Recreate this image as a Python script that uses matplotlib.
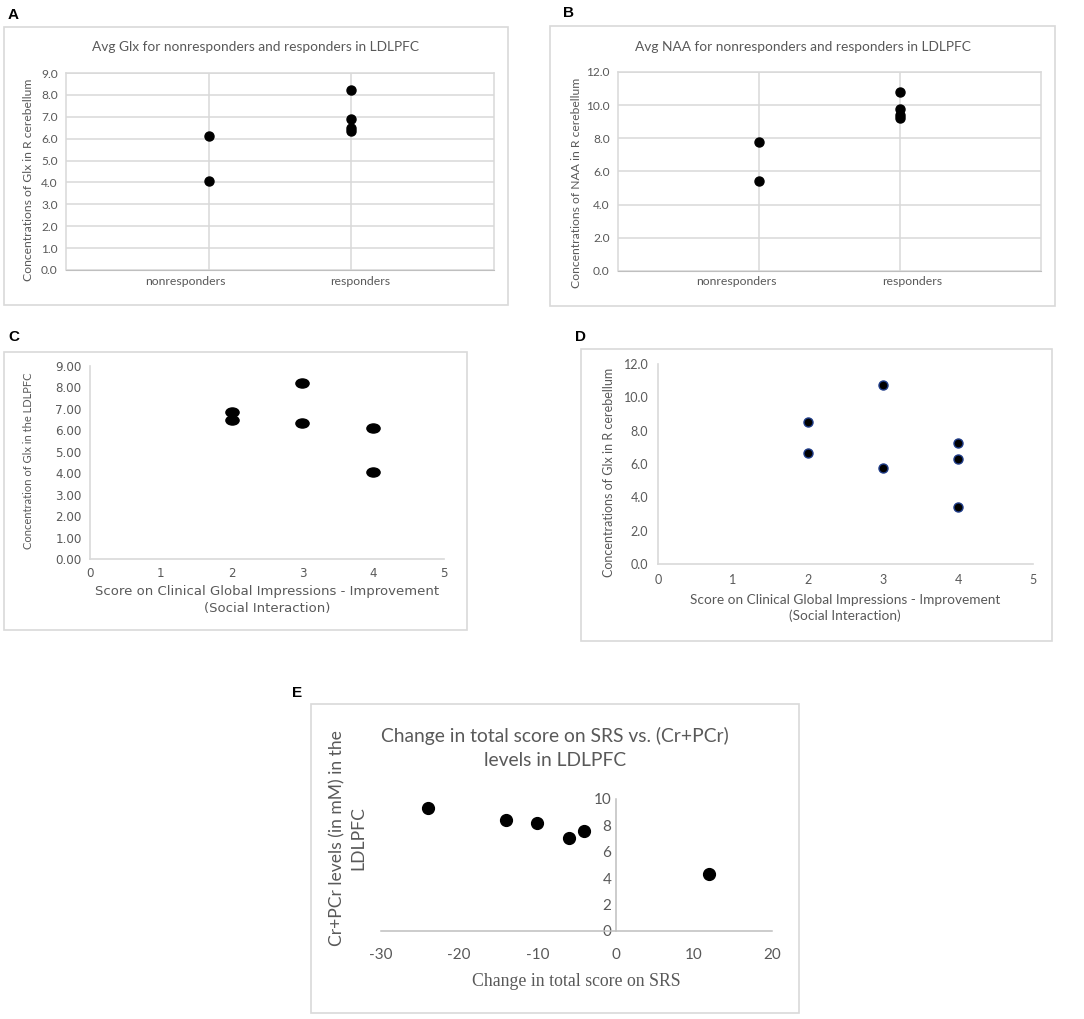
import numpy as np
import matplotlib.pyplot as plt
from matplotlib.patches import Rectangle
from matplotlib.markers import MarkerStyle
from matplotlib.path import Path
from matplotlib.transforms import Affine2D

# --- data ---
groups = ['nonresponders', 'responders']
glx_nonresp = [6.12, 4.05]
glx_resp = [8.24, 6.88, 6.48, 6.35]
naa_nonresp = [7.76, 5.42]
naa_resp = [10.80, 9.75, 9.38, 9.20]

cgi_glx = [2, 2, 3, 3, 4, 4]
glx_ldlpfc = [6.87, 6.46, 8.22, 6.34, 6.12, 4.05]

cgi_d = [2, 2, 3, 3, 4, 4, 4]
glx_cereb = [8.54, 6.67, 10.74, 5.75, 7.27, 6.31, 3.43]

srs_change = [-24, -14, -10, -6, -4, 12]
crpcr = [9.29, 8.41, 8.15, 7.01, 7.54, 4.35]

W, H = 1084, 1019
TXT = '#595959'
GRID = '#d9d9d9'
AXL = '#bfbfbf'
SANS = ['Lato', 'DejaVu Sans']
plt.rcParams['font.family'] = SANS
plt.rcParams['axes.unicode_minus'] = False

fig = plt.figure(figsize=(W / 100, H / 100), dpi=100)


def box(x0, y0, x1, y1):
    # px coords (top-left origin) -> figure-fraction rect
    return [x0 / W, 1 - y1 / H, (x1 - x0) / W, (y1 - y0) / H]


def frame(x0, y0, x1, y1):
    fig.patches.append(Rectangle((x0 / W, 1 - y1 / H), (x1 - x0) / W, (y1 - y0) / H,
                                 transform=fig.transFigure, fill=False,
                                 edgecolor=GRID, linewidth=1.2))


def ftext(x, y, s, **kw):
    kw.setdefault('color', TXT)
    kw.setdefault('ha', 'center')
    kw.setdefault('va', 'center')
    fig.text(x / W, 1 - y / H, s, **kw)


def panel_label(x, y, s):
    fig.text(x / W, 1 - y / H, s, fontsize=11, fontweight='bold',
             family='Liberation Sans', color='black', ha='left', va='center')


# ellipse marker for the stretched panel C
ell = MarkerStyle(Path.unit_circle().transformed(Affine2D().scale(1.45, 1.0)))


def group_panel(rect, fr, nonresp, resp, ymax, ystep, title, ylabel, title_xy, ylab_xy, lab_x, lab_y):
    frame(*fr)
    ax = fig.add_axes(box(*rect))
    ax.set_xlim(0, 3)
    ax.set_ylim(0, ymax)
    ax.set_xticks([1, 2])
    ax.set_xticklabels([])
    ax.set_yticks(np.arange(0, ymax + 0.01, ystep))
    ax.set_yticklabels([f'{v:.1f}' for v in np.arange(0, ymax + 0.01, ystep)])
    ax.grid(True, color=GRID, linewidth=1.1)
    ax.set_axisbelow(True)
    for s in ['top', 'right', 'left']:
        ax.spines[s].set_color(GRID)
        ax.spines[s].set_linewidth(1.1)
    ax.spines['bottom'].set_color(AXL)
    ax.tick_params(length=0, labelsize=8.6, labelcolor=TXT, pad=6)
    ax.plot([1] * len(nonresp), nonresp, 'o', color='black', ms=6.5)
    ax.plot([2] * len(resp), resp, 'o', color='black', ms=6.5)
    ftext(*title_xy, title, fontsize=9.9)
    ftext(*ylab_xy, ylabel, fontsize=8.7, rotation=90)
    for xx, g in zip(lab_x, groups):
        ftext(xx, lab_y, g, fontsize=8.8)
    return ax


# ---------- A ----------
panel_label(8, 15, 'A')
group_panel((66, 73, 494, 270), (4, 27, 508, 305), glx_nonresp, glx_resp, 9, 1.0,
            'Avg Glx for nonresponders and responders in LDLPFC',
            'Concentrations of Glx in R cerebellum', (256, 47), (29, 180),
            [185, 360], 282)

# ---------- B ----------
panel_label(563, 13, 'B')
group_panel((618, 72, 1041, 271), (550, 26, 1055, 306), naa_nonresp, naa_resp, 12, 2.0,
            'Avg NAA for nonresponders and responders in LDLPFC',
            'Concentrations of NAA in R cerebellum', (803, 47), (576, 183),
            [736, 912], 282)

# ---------- C ----------
panel_label(8, 337, 'C')
frame(4, 352, 467, 630)
axc = fig.add_axes(box(90, 366, 444, 559))
axc.set_xlim(0, 5)
axc.set_ylim(0, 9)
axc.set_xticks(range(6))
axc.set_yticks(range(10))
axc.set_yticklabels([f'{v:.2f}' for v in range(10)], family='DejaVu Sans')
axc.set_xticklabels([str(v) for v in range(6)], family='DejaVu Sans')
for s in ['top', 'right']:
    axc.spines[s].set_visible(False)
for s in ['left', 'bottom']:
    axc.spines[s].set_color(GRID)
    axc.spines[s].set_linewidth(1.2)
axc.tick_params(length=0, labelsize=8.6, labelcolor=TXT, pad=6)
axc.plot(cgi_glx, glx_ldlpfc, linestyle='none', marker=ell, color='black', ms=9.5)
ftext(29, 461, 'Concentration of Glx in the LDLPFC', fontsize=8, rotation=90)
ftext(267, 600, 'Score on Clinical Global Impressions - Improvement\n(Social Interaction)',
      fontsize=9.5, family='DejaVu Sans', linespacing=1.35)

# ---------- D ----------
panel_label(575, 337, 'D')
frame(581, 349, 1052, 641)
axd = fig.add_axes(box(658, 364, 1033, 564))
axd.set_xlim(0, 5)
axd.set_ylim(0, 12)
axd.set_xticks(range(6))
axd.set_yticks(range(0, 13, 2))
axd.set_yticklabels([f'{v:.1f}' for v in range(0, 13, 2)])
for s in ['top', 'right']:
    axd.spines[s].set_visible(False)
for s in ['left', 'bottom']:
    axd.spines[s].set_color(GRID)
    axd.spines[s].set_linewidth(1.2)
axd.tick_params(length=0, labelsize=9, labelcolor=TXT, pad=7)
axd.plot(cgi_d, glx_cereb, 'o', color='black', mec='#1f3c88', mew=1.0, ms=6.5)
ftext(609, 472, 'Concentrations of Glx in R cerebellum', fontsize=9, rotation=90)
ftext(845, 608, 'Score on Clinical Global Impressions - Improvement\n(Social Interaction)',
      fontsize=9.8, linespacing=1.3)

# ---------- E ----------
panel_label(292, 693, 'E')
frame(311, 704, 799, 1013)
axe = fig.add_axes(box(381, 799, 772, 931))
axe.set_xlim(-30, 20)
axe.set_ylim(0, 10)
axe.set_xticks(range(-30, 21, 10))
axe.set_yticks(range(0, 11, 2))
axe.spines['top'].set_visible(False)
axe.spines['right'].set_visible(False)
axe.spines['left'].set_position(('data', 0))
for s in ['left', 'bottom']:
    axe.spines[s].set_color(AXL)
    axe.spines[s].set_linewidth(1.1)
axe.tick_params(length=0, labelsize=11, labelcolor=TXT)
axe.tick_params(axis='x', pad=12)
axe.tick_params(axis='y', pad=3)
axe.plot(srs_change, crpcr, 'o', color='black', ms=8.5)
ftext(555, 748, 'Change in total score on SRS vs. (Cr+PCr)\nlevels in LDLPFC',
      fontsize=13.9, linespacing=1.5)
ftext(348, 838, 'Cr+PCr levels (in mM) in the\nLDLPFC', fontsize=12.6,
      rotation=90, linespacing=1.4)
ftext(576, 982, 'Change in total score on SRS', fontsize=12.8,
      family='Liberation Serif')

fig.savefig('out.png', dpi=100)
